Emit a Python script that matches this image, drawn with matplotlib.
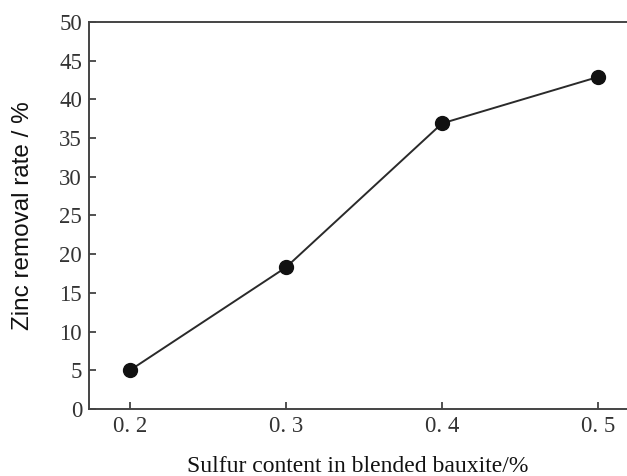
import matplotlib.pyplot as plt

# data
sulfur = [0.2, 0.3, 0.4, 0.5]
zinc_removal = [5.0, 18.3, 36.9, 42.9]
x_ticks = [0.2, 0.3, 0.4, 0.5]
x_tick_labels = ['0. 2', '0. 3', '0. 4', '0. 5']
y_ticks = [0, 5, 10, 15, 20, 25, 30, 35, 40, 45, 50]

fig = plt.figure(figsize=(6.27, 4.76), dpi=100)
ax = fig.add_axes([0.142, 0.1408, 0.858, 0.813])

ax.plot(sulfur, zinc_removal, color='#2a2a2a', linewidth=1.4,
        marker='o', markersize=10, markerfacecolor='#111111',
        markeredgecolor='#111111')

ax.set_xlim(0.1738, 0.5185)
ax.set_ylim(0, 50)
ax.set_xticks(x_ticks)
ax.set_xticklabels(x_tick_labels)
ax.set_yticks(y_ticks)

for lbl in ax.get_xticklabels() + ax.get_yticklabels():
    lbl.set_family('Liberation Serif')
    lbl.set_fontsize(16.5)
    lbl.set_color('#333333')

ax.tick_params(direction='in', length=5, width=1.2, colors='#333333', pad=5)
ax.spines['right'].set_visible(False)
for s in ['left', 'bottom', 'top']:
    ax.spines[s].set_linewidth(1.4)
    ax.spines[s].set_color('#444444')

ax.set_xlabel('Sulfur content in blended bauxite/%', family='Liberation Serif',
              fontsize=17, labelpad=14, color='#111111')
ax.set_ylabel('Zinc removal rate / %', family='Liberation Sans',
              fontsize=17.5, labelpad=18, color='#111111')

fig.savefig('out.png', dpi=100)
